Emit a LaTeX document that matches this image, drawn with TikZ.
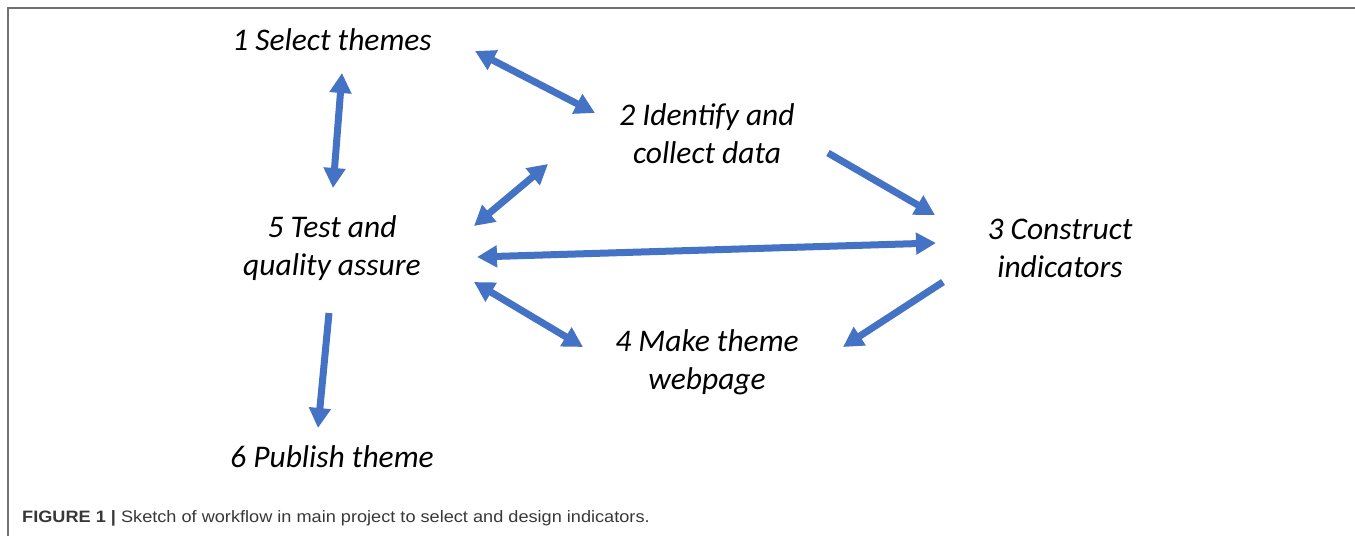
\documentclass[tikz,border=0pt]{standalone}
\usepackage{fontspec}
\setmainfont{Carlito}
\newfontfamily\capfont{Liberation Sans}
\usepackage{tikz}
\usetikzlibrary{arrows.meta, positioning}

\definecolor{arrowblue}{HTML}{4472C4}
\definecolor{framegray}{HTML}{707070}
\definecolor{captiongray}{HTML}{383838}

\tikzset{
  stage/.style={align=center, inner sep=0pt, font=\fontsize{31.5}{38}\selectfont\itshape},
  both/.style={draw=arrowblue, line width=7pt, {Triangle[length=20pt,width=21pt]}-{Triangle[length=20pt,width=21pt]}},
  oneway/.style={draw=arrowblue, line width=7pt, -{Triangle[length=20pt,width=21pt]}},
}

\begin{document}
\begin{tikzpicture}[x=1pt,y=-1pt]
    \useasboundingbox (0,0) rectangle (1355,536);
    \draw[framegray, line width=1.4pt] (8,536) -- (8,8) -- (1355,8);

    % workflow stages
    \node[stage] (select) at (332,40) {1 Select themes};
    \node[stage] (identify) at (707,134) {2 Identify and\\collect data};
    \node[stage] (construct) at (1060,248) {3 Construct\\indicators};
    \node[stage] (makepage) at (707,362) {4 Make theme\\webpage};
    \node[stage] (test) at (332,248) {5 Test and\\quality assure};
    \node[stage] (publish) at (332,457) {6 Publish theme};

    % arrow ends
    \coordinate (select-e) at (475,51);
    \coordinate (identify-w) at (595,113);
    \coordinate (select-s) at (342,73);
    \coordinate (test-n) at (333,188);
    \coordinate (identify-e) at (828,153);
    \coordinate (construct-nw) at (935,215);
    \coordinate (test-ne) at (474,226);
    \coordinate (identify-sw) at (548,164);
    \coordinate (test-e) at (477,257);
    \coordinate (construct-w) at (936,243);
    \coordinate (construct-sw) at (943,282);
    \coordinate (makepage-e) at (843,347);
    \coordinate (test-se) at (474,282);
    \coordinate (makepage-w) at (583,347);
    \coordinate (test-s) at (329,313);
    \coordinate (publish-n) at (318,428);

    \draw[both] (select-e) -- (identify-w);
    \draw[both] (select-s) -- (test-n);
    \draw[oneway] (identify-e) -- (construct-nw);
    \draw[both] (test-ne) -- (identify-sw);
    \draw[both] (test-e) -- (construct-w);
    \draw[oneway] (construct-sw) -- (makepage-e);
    \draw[both] (test-se) -- (makepage-w);
    \draw[oneway] (test-s) -- (publish-n);

    \node[anchor=base west, inner sep=0pt, xscale=1.1, text=captiongray, font=\capfont\fontsize{16.5}{20}\selectfont] (caption) at (22,522)
      {\textbf{FIGURE 1 |} Sketch of workflow in main project to select and design indicators.};
\end{tikzpicture}
\end{document}
